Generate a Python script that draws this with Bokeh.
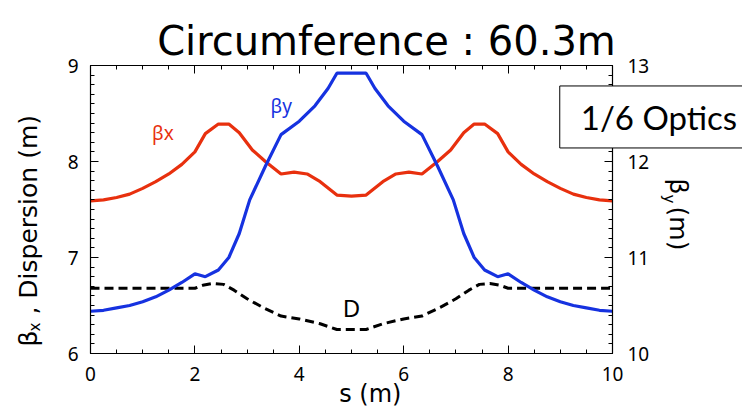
import math
from bokeh.plotting import figure
from bokeh.models import LinearAxis, Range1d, SingleIntervalTicker, Label
from bokeh.embed import file_html
from bokeh.resources import INLINE

# ---- data ----
s_bx = [0, 0.25, 0.5, 0.75, 1.0, 1.25, 1.5, 1.75, 2.0, 2.2, 2.45, 2.65, 2.85, 3.1, 3.35,
        3.65, 3.9, 4.15, 4.4, 4.72, 5.0, 5.28, 5.6, 5.85, 6.1, 6.35, 6.65, 6.9, 7.15,
        7.35, 7.55, 7.8, 8.0, 8.25, 8.5, 8.75, 9.0, 9.25, 9.5, 9.75, 10]
beta_x = [7.59, 7.60, 7.625, 7.66, 7.72, 7.79, 7.87, 7.97, 8.10, 8.29, 8.39, 8.39, 8.30, 8.12, 8.00,
          7.87, 7.89, 7.87, 7.79, 7.65, 7.64, 7.65, 7.79, 7.87, 7.89, 7.87, 8.00, 8.12, 8.30,
          8.39, 8.39, 8.29, 8.10, 7.97, 7.87, 7.79, 7.72, 7.66, 7.625, 7.60, 7.59]

s_by = [0, 0.25, 0.5, 0.75, 1.0, 1.25, 1.5, 1.75, 2.0, 2.2, 2.45, 2.65, 2.85, 3.05, 3.35,
        3.65, 4.0, 4.3, 4.55, 4.72, 5.0, 5.28, 5.45, 5.7, 6.0, 6.35, 6.65, 6.95, 7.15,
        7.35, 7.55, 7.8, 8.0, 8.25, 8.5, 8.75, 9.0, 9.25, 9.5, 9.75, 10]
beta_y = [10.44, 10.45, 10.475, 10.50, 10.54, 10.59, 10.66, 10.74, 10.83, 10.80, 10.87, 11.00, 11.25, 11.60, 11.95,
          12.28, 12.42, 12.58, 12.76, 12.92, 12.92, 12.92, 12.76, 12.58, 12.42, 12.28, 11.95, 11.60, 11.25,
          11.00, 10.87, 10.80, 10.83, 10.74, 10.66, 10.59, 10.54, 10.50, 10.475, 10.45, 10.44]

s_d = [0, 2.0, 2.15, 2.35, 2.55, 2.75, 3.0, 3.3, 3.65, 4.0, 4.4, 4.72, 5.0, 5.28, 5.6,
       6.0, 6.35, 6.7, 7.0, 7.25, 7.45, 7.65, 7.85, 8.0, 10]
disp = [6.68, 6.68, 6.71, 6.73, 6.72, 6.66, 6.57, 6.48, 6.39, 6.36, 6.31, 6.25, 6.25, 6.25, 6.31,
        6.36, 6.39, 6.48, 6.57, 6.66, 6.72, 6.73, 6.71, 6.68, 6.68]

X_BOUNDS = (0, 10)
Y_BOUNDS = (6, 9)
Y2_BOUNDS = (10, 13)

RED = "#e8300e"
BLUE = "#1632e0"
FONT = "Noto Sans"
TFONT = "DejaVu Sans"

# frame covers the full canvas; plot box is 90..612 px horizontally, 65..353 px vertically
PX_X = 52.2   # px per metre
PX_Y = 96.0   # px per unit
x_lo = X_BOUNDS[0] - 90 / PX_X
x_hi = X_BOUNDS[1] + 130 / PX_X
y_lo = Y_BOUNDS[0] - 55 / PX_Y
y_hi = Y_BOUNDS[1] + 65 / PX_Y
y2_lo = Y2_BOUNDS[0] - 55 / PX_Y
y2_hi = Y2_BOUNDS[1] + 65 / PX_Y

p = figure(width=742, height=408, x_range=Range1d(x_lo, x_hi), y_range=Range1d(y_lo, y_hi),
           output_backend="svg", toolbar_location=None, min_border=0,
           x_axis_location=None, y_axis_location=None)
p.extra_y_ranges = {"right": Range1d(y2_lo, y2_hi)}
p.xgrid.grid_line_color = None
p.ygrid.grid_line_color = None
p.outline_line_color = None
p.background_fill_color = "white"
p.border_fill_color = "white"


def style(ax, standoff):
    ax.major_tick_in = 8
    ax.major_tick_out = 0
    ax.minor_tick_in = 4
    ax.minor_tick_out = 0
    ax.axis_line_color = "black"
    ax.axis_line_width = 1.2
    ax.major_tick_line_color = "black"
    ax.minor_tick_line_color = "black"
    ax.major_label_text_font = FONT
    ax.major_label_text_font_size = "19px"
    ax.major_label_text_color = "black"
    ax.major_label_standoff = standoff


bottom = LinearAxis(ticker=SingleIntervalTicker(interval=2, num_minor_ticks=4),
                    fixed_location=Y_BOUNDS[0], bounds=X_BOUNDS)
style(bottom, 13)
p.add_layout(bottom, "below")

top = LinearAxis(ticker=SingleIntervalTicker(interval=2, num_minor_ticks=4),
                 fixed_location=Y_BOUNDS[1], bounds=X_BOUNDS)
style(top, 5)
top.major_label_text_alpha = 0
p.add_layout(top, "above")

left = LinearAxis(ticker=SingleIntervalTicker(interval=1, num_minor_ticks=10),
                  fixed_location=X_BOUNDS[0], bounds=Y_BOUNDS)
style(left, 12)
p.add_layout(left, "left")

right = LinearAxis(y_range_name="right", ticker=SingleIntervalTicker(interval=1, num_minor_ticks=10),
                   fixed_location=X_BOUNDS[1], bounds=Y2_BOUNDS)
style(right, 15)
p.add_layout(right, "right")

p.line(s_d, disp, line_color="black", line_width=3, line_dash="9 5")
p.line(s_bx, beta_x, line_color=RED, line_width=3.2)
p.line(s_by, beta_y, line_color=BLUE, line_width=3.2, y_range_name="right")


# ---- texts ----
def lab(x, y, t, size, color="black", font=FONT, align="left", base="alphabetic", angle=0.0, **kw):
    l = Label(x=x, y=y, text=t, text_font=font, text_font_size=size, text_color=color,
              text_align=align, text_baseline=base, angle=angle, **kw)
    p.add_layout(l)
    return l


lab(5.67, 9.26, "Circumference : 60.3m", "40px", font="DejaVu Sans", align="center")
lab(1.18, 8.30, "βx", "19px", color=RED)
lab(3.45, 8.58, "βy", "19px", color=BLUE)
lab(5.0, 6.48, "D", "24px", align="center", base="middle")
lab(5.36, 5.575, "s (m)", "24px", font=TFONT, align="center")

# left axis title (rotated, reads upward)
lab(-1.188, 6.073, "β", "25px", font=TFONT, angle=math.pi / 2)
lab(-1.054, 6.229, "x", "15px", font=TFONT, angle=math.pi / 2)
lab(-1.188, 6.323, "\u00a0, Dispersion (m)", "25px", font=TFONT, angle=math.pi / 2)

# right axis title (rotated, reads downward)
lab(11.264, 7.823, "β", "25px", font=TFONT, angle=-math.pi / 2)
lab(11.073, 7.656, "y", "15px", font=TFONT, angle=-math.pi / 2)
lab(11.264, 7.531, "(m)", "25px", font=TFONT, angle=-math.pi / 2)

# boxed note
lab(10.89, 8.464, "1/6 Optics", "33px", font="Lato", align="center", base="middle",
    background_fill_color="white", border_line_color="black", border_line_width=1,
    padding=dict(left=21, right=21, top=11, bottom=11))

open("out.html", "w").write(file_html(p, INLINE))
